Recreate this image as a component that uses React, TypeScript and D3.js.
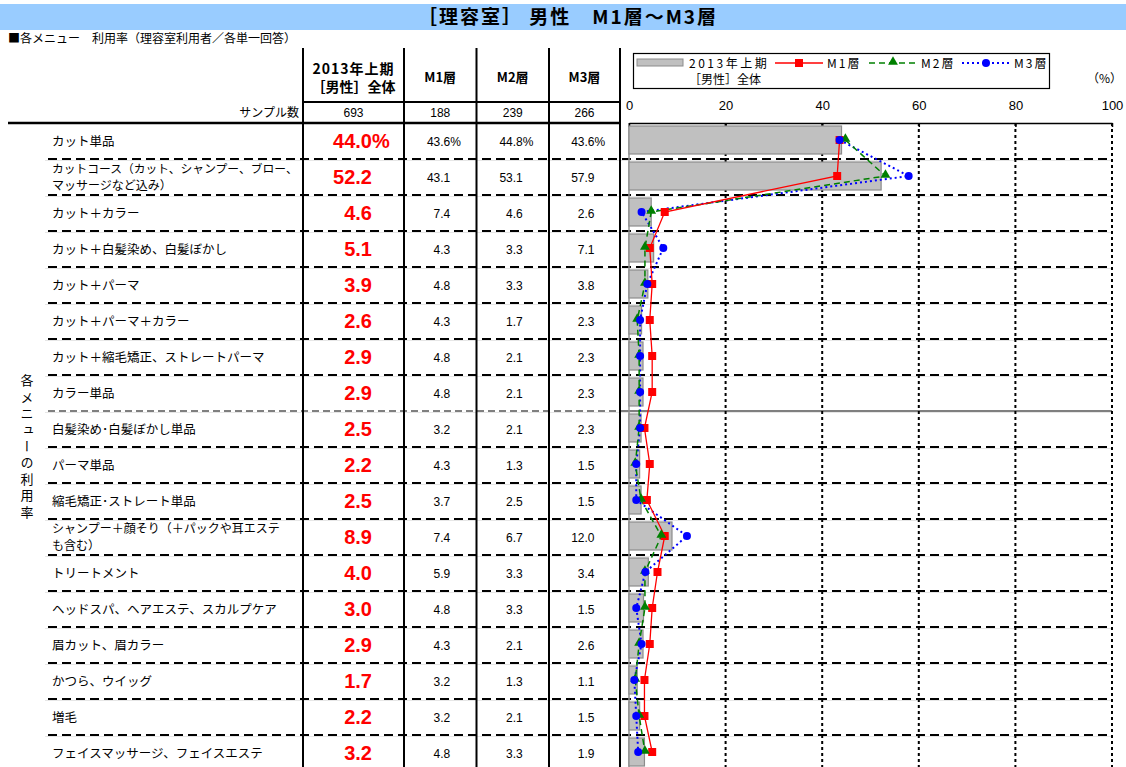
import React, { useEffect, useRef } from 'react';
import * as d3 from 'd3';

const categories: string[][] = [
  ['カット単品'],
  ['カットコース（カット、シャンプー、ブロー、', 'マッサージなど込み）'],
  ['カット＋カラー'],
  ['カット＋白髪染め、白髪ぼかし'],
  ['カット＋パーマ'],
  ['カット＋パーマ＋カラー'],
  ['カット＋縮毛矯正、ストレートパーマ'],
  ['カラー単品'],
  ['白髪染め･白髪ぼかし単品'],
  ['パーマ単品'],
  ['縮毛矯正･ストレート単品'],
  ['シャンプー＋顔そり（＋パックや耳エステ', 'も含む）'],
  ['トリートメント'],
  ['ヘッドスパ、ヘアエステ、スカルプケア'],
  ['眉カット、眉カラー'],
  ['かつら、ウイッグ'],
  ['増毛'],
  ['フェイスマッサージ、フェイスエステ'],
];

const total2013 = [44.0, 52.2, 4.6, 5.1, 3.9, 2.6, 2.9, 2.9, 2.5, 2.2, 2.5, 8.9, 4.0, 3.0, 2.9, 1.7, 2.2, 3.2];
const m1 = [43.6, 43.1, 7.4, 4.3, 4.8, 4.3, 4.8, 4.8, 3.2, 4.3, 3.7, 7.4, 5.9, 4.8, 4.3, 3.2, 3.2, 4.8];
const m2 = [44.8, 53.1, 4.6, 3.3, 3.3, 1.7, 2.1, 2.1, 2.1, 1.3, 2.5, 6.7, 3.3, 3.3, 2.1, 1.3, 2.1, 3.3];
const m3 = [43.6, 57.9, 2.6, 7.1, 3.8, 2.3, 2.3, 2.3, 2.3, 1.5, 1.5, 12.0, 3.4, 1.5, 2.6, 1.1, 1.5, 1.9];

const sampleSizes = [693, 188, 239, 266];
const segmentHeaders = ['M1層', 'M2層', 'M3層'];
const xTicks = [0, 20, 40, 60, 80, 100];

const title = '［理容室］ 男性　M1層～M3層';
const subtitle = '■各メニュー　利用率（理容室利用者／各単一回答）';
const sideLabel = '各メニューの利用率';

const JP = "'Noto Sans CJK JP', 'Noto Sans', sans-serif";
const NUM = "'Liberation Sans', Arial, sans-serif";

const App = () => {
  const ref = useRef<SVGSVGElement>(null);

  useEffect(() => {
    const svg = d3.select(ref.current);
    svg.selectAll('*').remove();

    const width = 1126;
    const tableTop = 123;
    const rowH = 36;
    const tableLeft = 8;
    const colLines = [303, 404, 476.5, 549, 620];
    const headerTop = 48;
    const headerLine = 102;

    const x = d3.scaleLinear().domain([0, 100]).range([629, 1112]);
    const y = d3.scaleBand<number>()
      .domain(d3.range(categories.length))
      .range([tableTop, tableTop + rowH * categories.length]);
    const bottom = tableTop + rowH * categories.length;
    const cy = (i: number) => (y(i) as number) + 17;

    // title bar
    svg.append('rect').attr('x', 0).attr('y', 4).attr('width', width).attr('height', 26).attr('fill', '#99ccff');
    svg.append('text').attr('x', 568).attr('y', 24).attr('text-anchor', 'middle')
      .attr('font-family', JP).attr('font-weight', 'bold').attr('font-size', 19).attr('letter-spacing', 2)
      .text(title);
    svg.append('text').attr('x', 8).attr('y', 43)
      .attr('font-family', JP).attr('font-size', 12).text(subtitle);

    // row separators
    const sep = svg.append('g');
    for (let i = 1; i < categories.length; i++) {
      const yy = y(i) as number;
      const thin = i === 8;
      sep.append('line').attr('x1', 45).attr('x2', 1112).attr('y1', yy + 1.5).attr('y2', yy + 1.5)
        .attr('stroke', '#e6e6e6').attr('stroke-width', 1);
      sep.append('line').attr('x1', 48).attr('x2', thin ? 620 : 1112).attr('y1', yy).attr('y2', yy)
        .attr('stroke', '#000').attr('stroke-width', thin ? 1 : 2)
        .attr('stroke-dasharray', thin ? '7,4' : '9,5');
      if (thin) {
        sep.append('line').attr('x1', 620).attr('x2', 1112).attr('y1', yy).attr('y2', yy)
          .attr('stroke', '#000').attr('stroke-width', 1.2);
      }
    }

    // table lines
    colLines.forEach(cx => {
      svg.append('line').attr('x1', cx).attr('x2', cx).attr('y1', headerTop).attr('y2', bottom)
        .attr('stroke', '#000').attr('stroke-width', 2);
    });
    svg.append('line').attr('x1', colLines[0]).attr('x2', colLines[4]).attr('y1', headerLine).attr('y2', headerLine)
      .attr('stroke', '#000').attr('stroke-width', 2);
    svg.append('line').attr('x1', tableLeft).attr('x2', colLines[4]).attr('y1', tableTop).attr('y2', tableTop)
      .attr('stroke', '#000').attr('stroke-width', 2.5);

    // header
    const c0 = (colLines[0] + colLines[1]) / 2;
    svg.append('text').attr('x', c0).attr('y', 74).attr('text-anchor', 'middle')
      .attr('font-family', JP).attr('font-weight', 'bold').attr('font-size', 14).attr('letter-spacing', 1)
      .text('2013年上期');
    svg.append('text').attr('x', c0).attr('y', 92).attr('text-anchor', 'middle')
      .attr('font-family', JP).attr('font-weight', 'bold').attr('font-size', 14)
      .text('［男性］全体');
    const segCenters = [1, 2, 3].map(k => (colLines[k] + colLines[k + 1]) / 2);
    segmentHeaders.forEach((h, k) => {
      svg.append('text').attr('x', segCenters[k]).attr('y', 82).attr('text-anchor', 'middle')
        .attr('font-family', JP).attr('font-weight', 'bold').attr('font-size', 13).text(h);
    });
    svg.append('text').attr('x', 299).attr('y', 117).attr('text-anchor', 'end')
      .attr('font-family', JP).attr('font-size', 12).text('サンプル数');
    [c0, ...segCenters].forEach((cx, k) => {
      svg.append('text').attr('x', cx).attr('y', 117).attr('text-anchor', 'middle')
        .attr('font-family', NUM).attr('font-size', 12).text(sampleSizes[k]);
    });

    // side label (vertical)
    svg.append('text').attr('x', 27).attr('y', 374)
      .attr('font-family', JP).attr('font-size', 13)
      .style('writing-mode', 'vertical-rl')
      .attr('letter-spacing', 3.4)
      .text(sideLabel);

    // row labels and values
    const rows = svg.append('g');
    categories.forEach((lines, i) => {
      const mid = (y(i) as number) + 18;
      const two = lines.length > 1;
      const fs = two ? 12 : 12.5;
      const t = rows.append('text').attr('font-family', JP).attr('font-size', fs);
      lines.forEach((ln, j) => {
        const ty = two ? mid - 4 + j * 17 : mid + 4.5;
        const sp = t.append('tspan').attr('x', 52).attr('y', ty).text(ln);
        const node = sp.node() as SVGTextContentElement;
        const len = node ? node.getComputedTextLength() : 0;
        if (len > 246) sp.attr('font-size', (fs * 246) / len);
      });
      const pct = i === 0 ? '%' : '';
      rows.append('text').attr('x', 372).attr('y', mid + 7).attr('text-anchor', 'end')
        .attr('font-family', NUM).attr('font-weight', 'bold').attr('font-size', 20).attr('fill', '#ff0000')
        .text(total2013[i].toFixed(1));
      if (pct) {
        rows.append('text').attr('x', 372).attr('y', mid + 7)
          .attr('font-family', NUM).attr('font-weight', 'bold').attr('font-size', 20).attr('fill', '#ff0000')
          .text(pct);
      }
      [m1, m2, m3].forEach((s, k) => {
        const rx = segCenters[k] + 10;
        rows.append('text').attr('x', rx).attr('y', mid + 4.5).attr('text-anchor', 'end')
          .attr('font-family', NUM).attr('font-size', 12).text(s[i].toFixed(1));
        if (pct) {
          rows.append('text').attr('x', rx).attr('y', mid + 4.5)
            .attr('font-family', NUM).attr('font-size', 12).text(pct);
        }
      });
    });

    // chart grid
    const grid = svg.append('g');
    xTicks.slice(1).forEach(t => {
      grid.append('line').attr('x1', x(t)).attr('x2', x(t)).attr('y1', tableTop).attr('y2', bottom)
        .attr('stroke', '#000').attr('stroke-width', 2).attr('stroke-dasharray', '3,3');
    });
    grid.append('line').attr('x1', x(0)).attr('x2', x(0)).attr('y1', tableTop).attr('y2', bottom)
      .attr('stroke', '#909090').attr('stroke-width', 1.5);

    // axis
    const axis = svg.append('g').attr('transform', `translate(0,${tableTop})`)
      .call(d3.axisTop(x).tickValues(xTicks).tickSizeInner(-4).tickSizeOuter(0).tickPadding(13));
    axis.selectAll('text').attr('font-family', NUM).attr('font-size', 13).attr('fill', '#000');
    axis.select('.domain').attr('stroke-width', 1.5);
    axis.selectAll('.tick line').attr('stroke-width', 1.5);
    svg.append('text').attr('x', 1122).attr('y', 83).attr('text-anchor', 'end')
      .attr('font-family', JP).attr('font-size', 12).text('（%）');

    // bars
    svg.append('g').selectAll('rect').data(total2013).join('rect')
      .attr('x', x(0)).attr('y', (d, i) => (y(i) as number) + 3)
      .attr('width', d => x(d) - x(0)).attr('height', 28)
      .attr('fill', '#c0c0c0').attr('stroke', '#8c8c8c').attr('stroke-width', 1.2);

    const line = d3.line<number>().x(d => x(d)).y((d, i) => cy(i));

    svg.append('path').datum(m3).attr('d', line).attr('fill', 'none')
      .attr('stroke', '#0000ff').attr('stroke-width', 2).attr('stroke-dasharray', '2,3');
    svg.append('path').datum(m2).attr('d', line).attr('fill', 'none')
      .attr('stroke', '#008000').attr('stroke-width', 1.5).attr('stroke-dasharray', '6,4');
    svg.append('path').datum(m1).attr('d', line).attr('fill', 'none')
      .attr('stroke', '#ff0000').attr('stroke-width', 1.3);

    const tri = d3.symbol().type(d3.symbolTriangle).size(42);
    svg.append('g').selectAll('rect').data(m1).join('rect')
      .attr('x', d => x(d) - 4).attr('y', (d, i) => cy(i) - 4).attr('width', 8).attr('height', 8)
      .attr('fill', '#ff0000');
    svg.append('g').selectAll('path').data(m2).join('path')
      .attr('d', tri).attr('transform', (d, i) => `translate(${x(d)},${cy(i) - 1})`)
      .attr('fill', '#008000');
    svg.append('g').selectAll('circle').data(m3).join('circle')
      .attr('cx', d => x(d)).attr('cy', (d, i) => cy(i)).attr('r', 4)
      .attr('fill', '#0000ff');

    // legend
    const lg = svg.append('g');
    lg.append('rect').attr('x', 633.5).attr('y', 53.5).attr('width', 416).attr('height', 35)
      .attr('fill', '#fff').attr('stroke', '#000').attr('stroke-width', 1.2);
    lg.append('rect').attr('x', 637).attr('y', 59).attr('width', 46).attr('height', 7)
      .attr('fill', '#c0c0c0').attr('stroke', '#8c8c8c');
    lg.append('text').attr('x', 689).attr('y', 68).attr('font-family', JP).attr('font-size', 12)
      .attr('letter-spacing', 2.5).text('2013年上期');
    lg.append('text').attr('x', 689).attr('y', 84).attr('font-family', JP).attr('font-size', 12)
      .text('［男性］全体');
    const items = [
      { x0: 775, color: '#ff0000', dash: null, w: 1.3, label: segmentHeaders[0], mark: 'sq' },
      { x0: 869, color: '#008000', dash: '6,4', w: 1.5, label: segmentHeaders[1], mark: 'tri' },
      { x0: 962, color: '#0000ff', dash: '2,3', w: 2, label: segmentHeaders[2], mark: 'ci' },
    ];
    items.forEach(it => {
      const ly = 63;
      lg.append('line').attr('x1', it.x0).attr('x2', it.x0 + 48).attr('y1', ly).attr('y2', ly)
        .attr('stroke', it.color).attr('stroke-width', it.w).attr('stroke-dasharray', it.dash);
      const mx = it.x0 + 24;
      if (it.mark === 'sq') {
        lg.append('rect').attr('x', mx - 4).attr('y', ly - 4).attr('width', 8).attr('height', 8).attr('fill', it.color);
      } else if (it.mark === 'tri') {
        lg.append('path').attr('d', tri).attr('transform', `translate(${mx},${ly - 1})`).attr('fill', it.color);
      } else {
        lg.append('circle').attr('cx', mx).attr('cy', ly).attr('r', 4).attr('fill', it.color);
      }
      lg.append('text').attr('x', it.x0 + 52).attr('y', 68).attr('font-family', JP).attr('font-size', 12)
        .attr('letter-spacing', 2).text(it.label);
    });
  }, []);

  return (
    <svg ref={ref} width={1126} height={767}
      style={{ position: 'absolute', left: 0, top: 0, background: '#fff' }} />
  );
};

export default App;
